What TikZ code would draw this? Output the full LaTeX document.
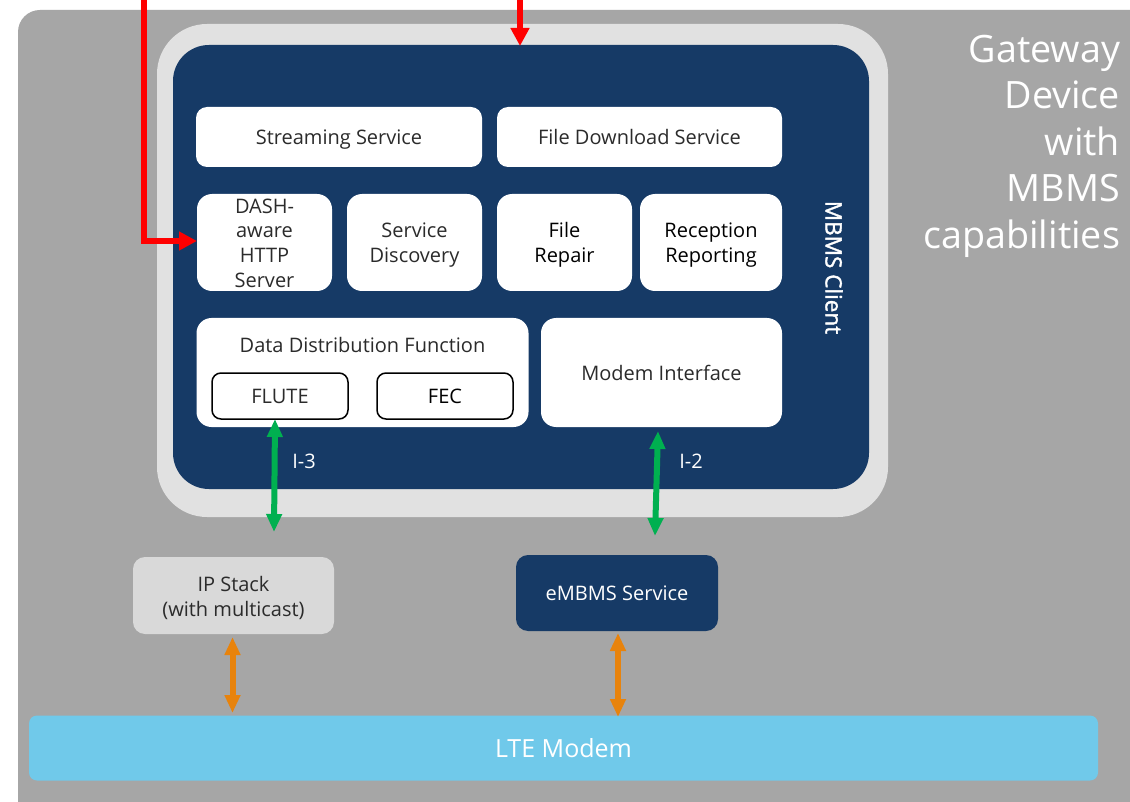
\documentclass[tikz,border=0pt]{standalone}
\usepackage{fontspec}
\setmainfont{Open Sans}
\newfontfamily\mcfont[FakeBold=1.6]{Open Sans}
\usetikzlibrary{arrows.meta}
\definecolor{cgray}{HTML}{A6A6A6}
\definecolor{clight}{HTML}{E1E1E1}
\definecolor{cnavy}{HTML}{163A66}
\definecolor{csky}{HTML}{70C9EA}
\definecolor{corange}{HTML}{E8830C}
\definecolor{cgreen}{HTML}{00B050}
\definecolor{cred}{HTML}{FF0000}
\definecolor{cip}{HTML}{D9D9D9}
\definecolor{ctext}{HTML}{2B2B2B}
\tikzset{
  x=1pt,y=-1pt,
  base/.style={rectangle,inner sep=0pt,outer sep=0pt,align=center,font=\fontsize{20}{24.7}\selectfont},
  wbox/.style={base,fill=white,text=ctext,rounded corners=11pt},
  wbig/.style={base,fill=white,text=ctext,rounded corners=15pt},
  inbox/.style={base,fill=white,draw=black,line width=1.5pt,text=ctext,rounded corners=9pt,font=\fontsize{20}{24}\selectfont},
  lab/.style={inner sep=0pt,outer sep=0pt,align=center,text=white,font=\fontsize{20}{24}\selectfont},
  dlab/.style={inner sep=0pt,outer sep=0pt,align=center,text=ctext,font=\fontsize{20}{24.7}\selectfont},
  redline/.style={draw=cred,line width=6pt,-{Triangle[length=18pt,width=18pt]}},
  greenline/.style={draw=cgreen,line width=6pt,{Triangle[length=18pt,width=15pt]}-{Triangle[length=18pt,width=15pt]}},
  orangeline/.style={draw=corange,line width=6pt,{Triangle[length=18pt,width=15pt]}-{Triangle[length=18pt,width=15pt]}},
}
\begin{document}
\begin{tikzpicture}
\useasboundingbox (0,0) rectangle (1130,802);
\clip (0,0) rectangle (1130,802);
\fill[white] (0,0) rectangle (1130,802);
\node[base,fill=cgray,rounded corners=22pt,minimum width=1152pt,minimum height=822pt] (gw) at (594,421) {};
\node[base,fill=clight,rounded corners=50pt,minimum width=731pt,minimum height=493pt] (outer) at (522.5,270.5) {};
\node[base,fill=cnavy,rounded corners=36pt,minimum width=696pt,minimum height=444pt] (client) at (521,267) {};
\node[lab,font=\fontsize{37.7}{46.5}\selectfont,align=right,anchor=north east] (gwt) at (1120,35) {Gateway\\Device\\with\\MBMS\\capabilities};
\node[lab,font=\fontsize{22.5}{24}\selectfont\mcfont,rotate=-90] (mc) at (834,267.5) {MBMS Client};

\node[wbox,minimum width=286pt,minimum height=60pt,text depth=0pt] (ss) at (339,137) {Streaming Service};
\node[wbox,minimum width=285pt,minimum height=60pt,text depth=0pt] (fd) at (639.5,137) {File Download Service};
\node[wbig,minimum width=135pt,minimum height=97pt] (dash) at (264.5,242.5) {};
\node[wbig,minimum width=135pt,minimum height=97pt] (sd) at (414.5,242.5) {};
\node[wbig,minimum width=135pt,minimum height=97pt] (fr) at (564.5,242.5) {};
\node[wbig,minimum width=142pt,minimum height=97pt] (rr) at (711,242.5) {};
\node[dlab] (dasht) at (264.5,243) {DASH-\\aware\\HTTP\\Server};
\node[dlab] (sdt) at (414.5,245) {Service\\Discovery};
\node[dlab,text=black] (frt) at (564.5,245) {File\\Repair};
\node[dlab,text=black] (rrt) at (711,245) {Reception\\Reporting};
\node[wbig,minimum width=332pt,minimum height=109pt] (ddf) at (362.5,372.5) {};
\node[dlab] (ddft) at (362.5,345) {Data Distribution Function};
\node[inbox,minimum width=136pt,minimum height=46pt] (flute) at (280,396) {FLUTE};
\node[inbox,minimum width=136pt,minimum height=46pt,text=black] (fec) at (445,396) {FEC};
\node[wbig,minimum width=241pt,minimum height=109pt] (mi) at (661.5,372.5) {};
\node[dlab] (mit) at (661.5,373) {Modem Interface};

\node[base,fill=cip,rounded corners=12pt,minimum width=201pt,minimum height=77pt] (ip) at (233.5,595.5) {};
\node[dlab] (ipt) at (233.5,598) {IP Stack\\(with multicast)};
\node[base,fill=cnavy,text=white,rounded corners=12pt,minimum width=202pt,minimum height=76pt] (emb) at (617,593) {eMBMS Service};
\node[base,fill=csky,text=white,rounded corners=8pt,minimum width=1069pt,minimum height=65pt,font=\fontsize{25}{28}\selectfont] (lte) at (563.5,748) {LTE Modem};

\node[lab] (i3) at (304,461) {I-3};
\node[lab] (i2) at (691,461) {I-2};

\coordinate (rs1) at (144,-5);
\coordinate (rb) at (144,241);
\coordinate (rs2) at (520,-5);
\coordinate (rt) at (520,46);
\coordinate (g3a) at (275,419);
\coordinate (g3b) at (274,532);
\coordinate (g2a) at (658,431);
\coordinate (g2b) at (655,536);
\coordinate (o1a) at (232.5,637);
\coordinate (o1b) at (232.5,713);
\coordinate (o2a) at (618,633);
\coordinate (o2b) at (618,717);
\coordinate (dashw) at (dash.west |- rb);

\draw[redline] (rs1) -- (rb) -- (dashw);
\draw[redline] (rs2) -- (rt);
\draw[greenline] (g3a) -- (g3b);
\draw[greenline] (g2a) -- (g2b);
\draw[orangeline] (o1a) -- (o1b);
\draw[orangeline] (o2a) -- (o2b);
\end{tikzpicture}
\end{document}
